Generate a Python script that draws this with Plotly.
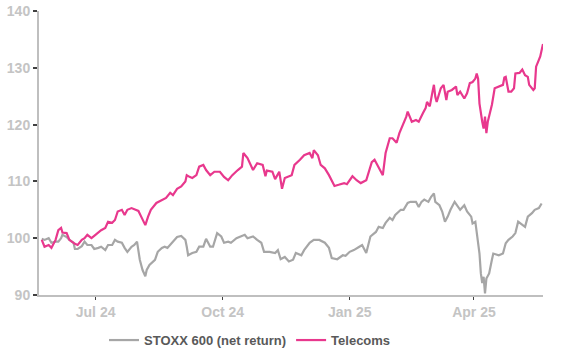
import pandas as pd
import plotly.graph_objects as go

START_DATE = "2024-05-23"

# Telecoms index (rebased to 100), sampled points: days since START_DATE, value
telecoms_days = [0, 2, 5, 7, 10, 12, 14, 15, 18, 20, 24, 26, 29, 31, 33, 36, 38, 41, 43, 46,
                 48, 51, 53, 55, 58, 60, 62, 65, 67, 70, 72, 75, 77, 79, 83, 87, 90, 93, 95, 98,
                 101, 104, 105, 107, 109, 112, 114, 117, 119, 122, 125, 129, 132, 135, 138, 142, 145, 146, 149, 153,
                 156, 160, 162, 163, 167, 169, 172, 174, 176, 181, 183, 187, 190, 194, 196, 197, 200, 202, 205, 208,
                 212, 215, 219, 221, 225, 228, 231, 235, 239, 241, 243, 247, 249, 252, 254, 257, 259, 261, 264, 265,
                 268, 271, 273, 276, 278, 279, 281, 283, 284, 285, 286, 289, 291, 293, 294, 297, 300, 301, 303, 306,
                 308, 310, 312, 314, 315, 316, 317, 319, 320, 321, 322, 323, 324, 326, 328, 331, 334, 335, 336, 338,
                 340, 342, 343, 346, 348, 350, 352, 353, 356, 357, 358, 360, 361, 363]
telecoms_vals = [99.7, 98.5, 98.8, 98.3, 99.7, 101.4, 101.8, 101.0, 100.9, 99.7, 99.0, 98.8, 99.7, 100.0, 100.6, 100.0, 100.4, 101.1, 101.4, 101.8,
                 102.9, 102.7, 103.2, 104.7, 105.0, 104.1, 105.0, 105.3, 105.1, 104.8, 103.8, 102.3, 103.8, 105.0, 106.2, 106.7, 107.1, 108.0, 107.6, 108.7,
                 109.1, 110.0, 111.1, 110.8, 110.6, 111.1, 112.6, 112.9, 112.0, 111.1, 111.7, 111.7, 110.8, 110.2, 111.1, 112.0, 112.6, 115.0, 114.1, 112.0,
                 113.2, 112.9, 110.9, 111.9, 111.7, 110.4, 111.7, 108.7, 110.6, 111.1, 112.9, 113.8, 114.6, 115.0, 114.1, 115.5, 114.6, 112.9, 112.3, 111.1,
                 109.2, 109.4, 109.7, 109.5, 110.9, 110.2, 109.7, 110.2, 113.4, 113.8, 112.9, 111.1, 115.0, 117.6, 117.6, 116.8, 118.5, 119.6, 121.4, 122.3,
                 120.5, 120.8, 120.5, 122.0, 122.9, 124.0, 123.2, 125.8, 127.0, 124.9, 124.0, 126.4, 127.0, 124.3, 125.8, 126.1, 126.7, 125.2, 125.8, 124.6,
                 125.5, 127.3, 127.5, 128.1, 129.0, 128.1, 123.7, 120.5, 119.3, 121.4, 118.5, 120.5, 121.4, 123.5, 126.4, 126.7, 127.0, 128.3, 128.4, 125.8,
                 125.8, 126.4, 129.0, 129.1, 129.7, 128.7, 128.4, 127.0, 126.1, 126.4, 130.2, 131.4, 132.0, 134.2]

# STOXX 600 (net return), rebased to 100
stoxx_days = [0, 2, 5, 7, 10, 12, 14, 15, 18, 20, 23, 24, 26, 29, 31, 33, 36, 38, 41, 43,
              46, 48, 51, 53, 55, 58, 60, 62, 65, 67, 69, 71, 73, 75, 76, 78, 82, 84, 87, 89,
              91, 94, 96, 98, 101, 104, 105, 106, 109, 112, 114, 117, 119, 122, 124, 127, 130, 132, 135, 137,
              141, 144, 147, 149, 153, 156, 159, 161, 165, 169, 171, 173, 176, 179, 182, 184, 188, 190, 194, 197,
              201, 205, 208, 210, 214, 218, 220, 223, 226, 230, 232, 235, 238, 242, 244, 247, 249, 252, 254, 256,
              260, 262, 265, 267, 271, 273, 275, 277, 280, 282, 284, 285, 288, 290, 292, 294, 296, 299, 301, 303,
              306, 308, 311, 312, 314, 315, 317, 318, 319, 320, 321, 322, 324, 326, 327, 331, 334, 336, 338, 341,
              343, 345, 347, 350, 352, 355, 357, 360, 362]
stoxx_vals = [99.9, 99.7, 100.0, 99.2, 99.4, 99.4, 100.0, 100.6, 100.2, 99.7, 99.2, 98.1, 98.1, 98.6, 99.4, 98.8, 98.8, 98.1, 98.3, 98.5,
              97.9, 98.8, 98.8, 99.7, 99.4, 99.2, 98.3, 97.6, 98.5, 98.8, 99.4, 96.2, 94.4, 93.3, 94.4, 95.3, 96.2, 97.6, 98.3, 98.5,
              98.3, 99.2, 99.7, 100.2, 100.4, 99.7, 98.5, 97.0, 97.4, 97.6, 98.5, 98.5, 99.9, 98.5, 98.5, 100.9, 100.3, 99.2, 99.4, 99.2,
              100.0, 100.3, 100.6, 100.0, 100.3, 99.7, 99.2, 97.6, 97.6, 97.4, 97.9, 96.3, 96.7, 95.9, 96.2, 97.4, 97.0, 97.9, 99.2, 99.7,
              99.7, 99.2, 98.3, 96.5, 96.3, 97.0, 96.9, 97.6, 97.9, 98.5, 98.8, 97.4, 100.3, 101.1, 102.0, 101.8, 102.7, 103.6, 103.2, 104.1,
              105.0, 105.0, 106.2, 106.4, 106.4, 105.5, 106.4, 106.8, 106.4, 107.3, 107.9, 106.4, 105.8, 104.7, 102.9, 103.8, 105.0, 106.4, 105.8, 105.0,
              105.8, 104.7, 103.8, 102.6, 102.9, 100.9, 97.3, 93.8, 92.1, 93.2, 90.3, 92.9, 93.8, 96.2, 97.3, 97.0, 97.3, 99.1, 99.7, 100.3,
              100.9, 102.9, 102.6, 102.0, 103.8, 104.4, 105.0, 105.3, 106.1]

series_names = ["STOXX 600 (net return)", "Telecoms"]
series_colors = ["#A6A6A6", "#E8388D"]
y_ticks = [90, 100, 110, 120, 130, 140]

start = pd.Timestamp(START_DATE)
stoxx_x = start + pd.to_timedelta(stoxx_days, unit="D")
tele_x = start + pd.to_timedelta(telecoms_days, unit="D")

fig = go.Figure()
fig.add_trace(go.Scatter(x=stoxx_x, y=stoxx_vals, mode="lines", name=series_names[0],
                         line=dict(color=series_colors[0], width=2.2)))
fig.add_trace(go.Scatter(x=tele_x, y=telecoms_vals, mode="lines", name=series_names[1],
                         line=dict(color=series_colors[1], width=2.2)))

axis_font = dict(family="Liberation Sans, Arial", size=14, color="#C4C4C4", weight="bold")

fig.update_layout(
    width=581, height=364,
    margin=dict(l=39, r=38, t=11, b=69, autoexpand=False),
    paper_bgcolor="white", plot_bgcolor="white",
    showlegend=True,
    legend=dict(orientation="h", x=0.129, xanchor="left", y=-0.106, yanchor="top",
                font=dict(family="Liberation Sans, Arial", size=13, color="#595959", weight="bold"),
                itemwidth=30, traceorder="normal"),
    xaxis=dict(
        range=[start - pd.Timedelta(days=2), start + pd.Timedelta(days=363)],
        tick0="2024-07-01", dtick="M3", tickformat="%b %y",
        showgrid=False, zeroline=False, automargin=False,
        showline=True, linecolor="#BFBFBF", linewidth=2,
        ticks="outside", ticklen=3, tickcolor="#404040", tickwidth=1,
        tickfont=axis_font,
    ),
    yaxis=dict(
        range=[90, 140], tickvals=y_ticks,
        showgrid=False, zeroline=False, automargin=False,
        showline=True, linecolor="#BFBFBF", linewidth=2,
        ticks="outside", ticklen=4, tickcolor="#404040", tickwidth=1.5,
        tickfont=axis_font,
    ),
)

fig.write_html("out.html", config={"displayModeBar": False},
               post_script="document.body.style.margin='0';")
